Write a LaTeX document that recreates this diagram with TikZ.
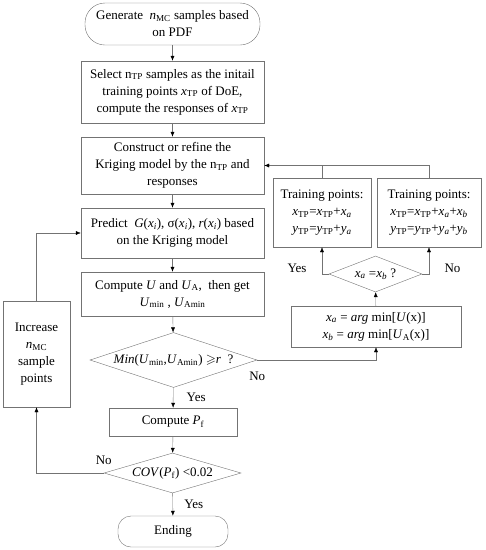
\documentclass[tikz,border=0pt]{standalone}
\usepackage{fontspec}
\usepackage{amssymb}
\setmainfont{Liberation Serif}
\usetikzlibrary{shapes.geometric,arrows.meta}

\newcommand{\tpvar}[1]{\textit{#1}\textsubscript{TP}}
\newcommand{\vsub}[2]{\textit{#1}\textsubscript{#2}}

\begin{document}
\begin{tikzpicture}[x=1pt, y=-1pt,
    every node/.style={font=\fontsize{13}{17}\selectfont, align=center},
    box/.style={rectangle, draw=black!55, inner sep=0pt},
    term/.style={rectangle, rounded corners=20pt, draw=black!55, inner sep=0pt},
    cond/.style={diamond, draw=black!55, inner sep=0pt},
    line/.style={draw=black!55, -{Latex[length=5pt, width=4pt, color=black]}}]
    \useasboundingbox (0,0) rectangle (486,550);

    \node[term, minimum width=175pt, minimum height=42pt] (0) at (172.5, 24) {Generate \ \vsub{n}{MC} samples based\\on PDF};
    \node[box, minimum width=183pt, minimum height=62pt] (1) at (172.5, 92) {Select n\textsubscript{TP} samples as the initail\\training points \tpvar{x} of DoE,\\compute the responses of \tpvar{x}};
    \node[box, minimum width=183pt, minimum height=57pt] (2) at (172.5, 165.5) {Construct or refine the\\Kriging model by the n\textsubscript{TP} and\\responses};
    \node[box, minimum width=183pt, minimum height=50pt] (3) at (172.5, 233) {Predict \ \textit{G}(\vsub{x}{\textit{i}}), σ(\vsub{x}{\textit{i}}), \textit{r}(\vsub{x}{\textit{i}}) based\\on the Kriging model};
    \node[box, minimum width=183pt, minimum height=44pt] (4) at (172.5, 294) {Compute \textit{U} and \vsub{U}{A},\ \ then get\\\vsub{U}{min} , \vsub{U}{Amin}};
    \node[cond, minimum width=167pt, minimum height=55pt] (5) at (173.5, 360) {\makebox[0pt]{\textit{Min}(\vsub{U}{min},\vsub{U}{Amin}) $\geqslant$\textit{r} \ ?}};
    \node[box, minimum width=128pt, minimum height=28pt] (6) at (173, 422) {Compute \vsub{P}{f}};
    \node[cond, minimum width=137pt, minimum height=40pt] (7) at (172.5, 473) {\makebox[0pt]{\textit{COV}(\vsub{P}{f}) <0.02}};
    \node[term, minimum width=110pt, minimum height=31pt, rounded corners=13pt] (8) at (173, 531.5) {Ending};
    \node[box, minimum width=67pt, minimum height=106pt] (9) at (36.5, 354) {Increase\\\vsub{n}{MC}\\sample\\points};
    \node[box, minimum width=98pt, minimum height=69pt] (10) at (322, 212.5) {Training points:\\\tpvar{x}=\tpvar{x}+\vsub{x}{\textit{a}}\\\tpvar{y}=\tpvar{y}+\vsub{y}{\textit{a}}};
    \node[box, minimum width=104pt, minimum height=69pt] (11) at (429, 212.5) {Training points:\\\tpvar{x}=\tpvar{x}+\vsub{x}{\textit{a}}+\vsub{x}{\textit{b}}\\\tpvar{y}=\tpvar{y}+\vsub{y}{\textit{a}}+\vsub{y}{\textit{b}}};
    \node[cond, minimum width=93pt, minimum height=36pt] (12) at (375.5, 274) {\makebox[0pt]{\vsub{x}{\textit{a}} =\vsub{x}{\textit{b}} ?}};
    \node[box, minimum width=170pt, minimum height=41pt] (13) at (376, 326.5) {\vsub{x}{\textit{a}} = \textit{arg} min[\textit{U}(x)]\\\vsub{x}{\textit{b}} = \textit{arg} min[\vsub{U}{A}(x)]};

    \draw[line] (0) -- (1);
    \draw[line] (1) -- (2);
    \draw[line] (2) -- (3);
    \draw[line] (3) -- (4);
    \draw[line] (4) -- (5);
    \draw[line] (5) -- node[right=10pt]{Yes} (6);
    \draw[line] (6) -- (7);
    \draw[line] (7) -- node[right=8pt]{Yes} (8);
    \draw[line] (7.west) -| node[pos=0, above=5pt]{No} (9.south);
    \draw[line] (9.north) |- (3.west);
    \draw[line] (5.east) -| node[pos=0, below=8pt]{No} (13.south);
    \draw[line] (13) -- (12);
    \draw[line] (12.west) -| node[pos=0.5, left=12pt, yshift=6pt]{Yes} (10.south);
    \draw[line] (12.east) -| node[pos=0.5, right=12pt, yshift=6pt]{No} (11.south);
    \draw[line] (11.north) |- (2.east);
    \draw[draw=black!55] (10.north) -- (10.north |- 2.east);
\end{tikzpicture}
\end{document}
